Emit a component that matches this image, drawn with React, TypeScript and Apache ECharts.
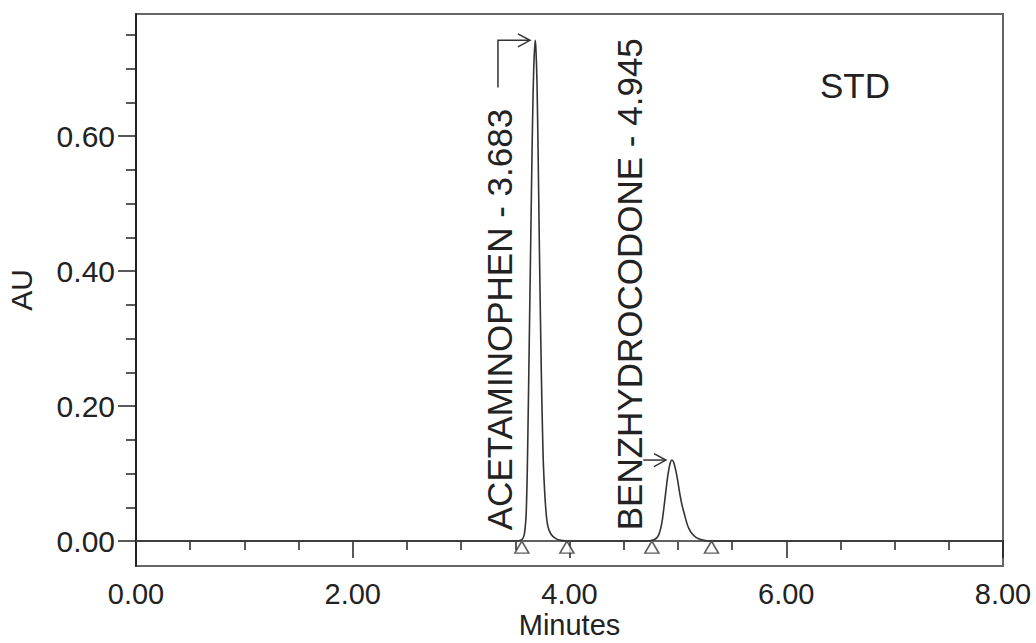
import React, { useEffect, useRef } from "react";
import * as echarts from "echarts";

// Chromatogram trace (minutes, AU)
const traceX = [0, 0.5, 1.0, 1.5, 2.0, 2.5, 3.0, 3.3, 3.5, 3.56, 3.58, 3.59, 3.6, 3.61, 3.62, 3.63, 3.64, 3.65, 3.66, 3.67, 3.683, 3.69, 3.7, 3.71, 3.72, 3.73, 3.74, 3.75, 3.76, 3.78, 3.8, 3.83, 3.87, 3.92, 4.0, 4.3, 4.6, 4.7, 4.78, 4.82, 4.85, 4.87, 4.89, 4.91, 4.93, 4.945, 4.96, 4.98, 5.0, 5.02, 5.04, 5.06, 5.08, 5.1, 5.13, 5.17, 5.22, 5.3, 5.6, 6.0, 7.0, 8.0];
const traceY = [0, 0, 0, 0, 0, 0, 0, 0, 0, 0.002, 0.008, 0.018, 0.04, 0.1, 0.2, 0.31, 0.42, 0.53, 0.63, 0.7, 0.742, 0.73, 0.68, 0.58, 0.46, 0.35, 0.25, 0.17, 0.11, 0.05, 0.022, 0.01, 0.004, 0.001, 0, 0, 0, 0, 0.002, 0.008, 0.025, 0.048, 0.075, 0.1, 0.116, 0.12, 0.117, 0.105, 0.088, 0.068, 0.052, 0.04, 0.028, 0.019, 0.011, 0.005, 0.002, 0, 0, 0, 0, 0];

// Peak start/end markers
const markerX = [3.56, 3.976, 4.76, 5.31];
const markerY = [-0.009, -0.009, -0.009, -0.009];

// Peak labels (anchored at text start, reading upward)
const peakLabels = ["ACETAMINOPHEN - 3.683", "BENZHYDROCODONE - 4.945"];
const labelX = [3.358, 4.557];
const labelY = [0.016, 0.016];

// Arrows from labels to peak apexes
const arrows = [
  [[3.34, 0.672], [3.34, 0.742], [3.635, 0.742]],
  [[4.68, 0.12], [4.89, 0.12]],
];

// Axis ticks
const yMajorTicks = [0, 0.2, 0.4, 0.6];
const yMinorTicks = [0.05, 0.1, 0.15, 0.25, 0.3, 0.35, 0.45, 0.5, 0.55, 0.65, 0.7, 0.75];

const FONT = "Liberation Sans, Arial, sans-serif";
const INK = "#222";

export default function App() {
  const ref = useRef<HTMLDivElement>(null);
  useEffect(() => {
    if (!ref.current) return;
    const chart = echarts.init(ref.current, undefined, { renderer: "svg" });
    const yMin = -0.037;
    const yMax = 0.781;
    chart.setOption({
      animation: false,
      backgroundColor: "#fff",
      grid: {
        left: 136,
        right: 33,
        top: 14,
        bottom: 77,
        show: true,
        borderColor: "#666",
        borderWidth: 2,
        backgroundColor: "transparent",
        containLabel: false,
        outerBoundsMode: "none",
      },
      xAxis: {
        type: "value",
        min: 0,
        max: 8,
        interval: 2,
        name: "Minutes",
        nameLocation: "middle",
        nameGap: 46,
        nameMoveOverlap: false,
        nameTextStyle: { fontSize: 29, lineHeight: 26, fontFamily: FONT, color: INK },
        axisLine: { show: true, lineStyle: { color: INK, width: 2 } },
        axisTick: { show: true, length: 17, lineStyle: { color: INK, width: 1.5 } },
        minorTick: { show: true, splitNumber: 4, length: 9, lineStyle: { color: INK, width: 1.5 } },
        axisLabel: {
          fontSize: 29,
          lineHeight: 26,
          fontFamily: FONT,
          color: INK,
          margin: 15,
          formatter: (v: number) => v.toFixed(2),
        },
        splitLine: { show: false },
      },
      yAxis: [
        {
          type: "value",
          min: yMin,
          max: yMax,
          name: "AU",
          nameLocation: "middle",
          nameGap: 100,
          nameMoveOverlap: false,
          nameTextStyle: { fontSize: 30, fontFamily: FONT, color: INK },
          axisLine: { show: true, lineStyle: { color: INK, width: 2 } },
          axisTick: { show: true, length: 18, customValues: yMajorTicks, lineStyle: { color: INK, width: 1.5 } },
          axisLabel: {
            fontSize: 30,
            fontFamily: FONT,
            color: INK,
            margin: 21,
            customValues: yMajorTicks,
            formatter: (v: number) => v.toFixed(2),
          },
          splitLine: { show: false },
        },
        {
          type: "value",
          min: yMin,
          max: yMax,
          position: "left",
          axisLine: { show: false },
          axisTick: { show: true, length: 10, customValues: yMinorTicks, lineStyle: { color: INK, width: 1.5 } },
          axisLabel: { show: false },
          splitLine: { show: false },
        },
      ],
      series: [
        {
          type: "line",
          data: [[0, 0], [8, 0]],
          symbol: "none",
          lineStyle: { color: "#777", width: 1.5 },
          silent: true,
        },
        {
          type: "line",
          data: traceX.map((x, i) => [x, traceY[i]]),
          symbol: "none",
          smooth: 0.3,
          lineStyle: { color: "#333", width: 1.6 },
        },
        {
          type: "scatter",
          data: markerX.map((x, i) => [x, markerY[i]]),
          symbol: "triangle",
          symbolSize: [14, 12],
          itemStyle: { color: "#fff", borderColor: "#333", borderWidth: 1.5 },
        },
        {
          type: "custom",
          data: labelX.map((x, i) => [x, labelY[i]]),
          renderItem: (params: any, api: any) => {
            const p = api.coord([api.value(0), api.value(1)]);
            return {
              type: "text",
              x: p[0],
              y: p[1],
              rotation: Math.PI / 2,
              style: {
                text: peakLabels[params.dataIndex],
                fontSize: 35,
                fontFamily: FONT,
                fill: INK,
                align: "left",
                verticalAlign: "middle",
              },
            };
          },
        },
        {
          type: "custom",
          data: arrows.map((a) => [a[0][0], a[0][1]]),
          renderItem: (params: any, api: any) => {
            const pts = arrows[params.dataIndex].map((p) => api.coord(p));
            const tip = pts[pts.length - 1];
            const prev = pts[pts.length - 2];
            const dx = tip[0] - prev[0];
            const dy = tip[1] - prev[1];
            const len = Math.sqrt(dx * dx + dy * dy) || 1;
            const ux = dx / len;
            const uy = dy / len;
            const L = 12;
            const W = 6.5;
            const head = [
              [tip[0] - ux * L - uy * W, tip[1] - uy * L + ux * W],
              tip,
              [tip[0] - ux * L + uy * W, tip[1] - uy * L - ux * W],
            ];
            return {
              type: "group",
              children: [
                { type: "polyline", shape: { points: pts }, style: { stroke: "#333", lineWidth: 1.5, fill: "none" } },
                { type: "polyline", shape: { points: head }, style: { stroke: "#333", lineWidth: 1.5, fill: "none" } },
              ],
            };
          },
        },
      ],
      graphic: [
        {
          type: "text",
          left: 820,
          top: 68,
          style: { text: "STD", fontSize: 35, fontFamily: FONT, fill: INK },
        },
      ],
    });
    return () => chart.dispose();
  }, []);
  return <div ref={ref} style={{ position: "absolute", left: 0, top: 0, width: 1036, height: 643 }} />;
}
